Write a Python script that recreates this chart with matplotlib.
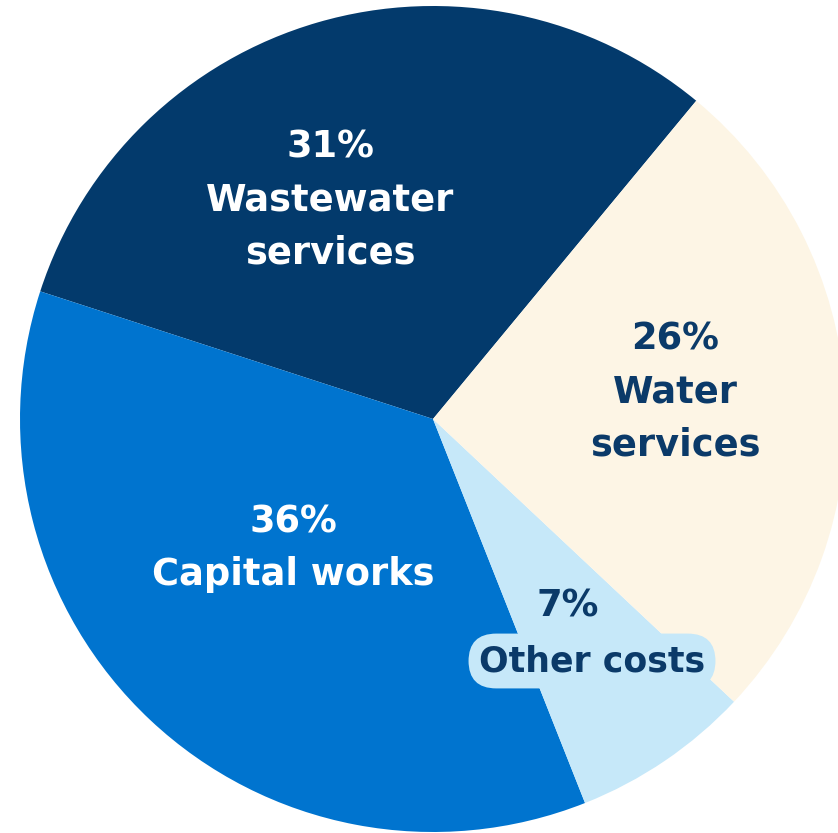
import matplotlib.pyplot as plt

categories = ['Wastewater\nservices', 'Capital works', 'Other costs', 'Water\nservices']
shares = [31, 36, 7, 26]
colors = ['#033a6c', '#0074cf', '#c6e8f9', '#fdf5e5']
text_colors = ['white', 'white', '#0b3a69', '#0b3a69']

# pixel geometry of the reference
W, H = 838, 833
cx, cy, r = 433, 419, 413


def to_data(px, py):
    return (px - cx) / r, (cy - py) / r


fig = plt.figure(figsize=(W / 100, H / 100), dpi=100)
ax = fig.add_axes([0, 0, 1, 1])
ax.pie(shares, colors=colors, startangle=50.4, counterclock=True,
       radius=1, center=(0, 0), wedgeprops=dict(linewidth=0))
ax.set_xlim(-cx / r, (W - cx) / r)
ax.set_ylim(-(H - cy) / r, cy / r)
ax.set_aspect('auto')
ax.axis('off')

font = dict(family=['DejaVu Sans'], fontweight='bold', fontsize=26.5,
            ha='center', va='center', linespacing=1.55)

# label anchors (pixel positions of text centre)
label_pos = [(330, 200), (293, 548), (590, 634), (675, 392)]
for cat, share, tc, (px, py) in zip(categories, shares, text_colors, label_pos):
    x, y = to_data(px, py)
    if cat == 'Other costs':
        # percent sits above the boxed label
        x2, y2 = to_data(568, 606)
        ax.text(x2, y2, f'{share}%', color=tc, **font)
        x, y = to_data(592, 661)
        box = dict(boxstyle='round,pad=0.3,rounding_size=0.8', fc=colors[2], ec='none')
        ax.text(x, y, cat, color=tc, bbox=box, **dict(font, fontsize=25))
        continue
    ax.text(x, y, f'{share}%\n{cat}', color=tc, **font)

fig.savefig('out.png', dpi=100)
